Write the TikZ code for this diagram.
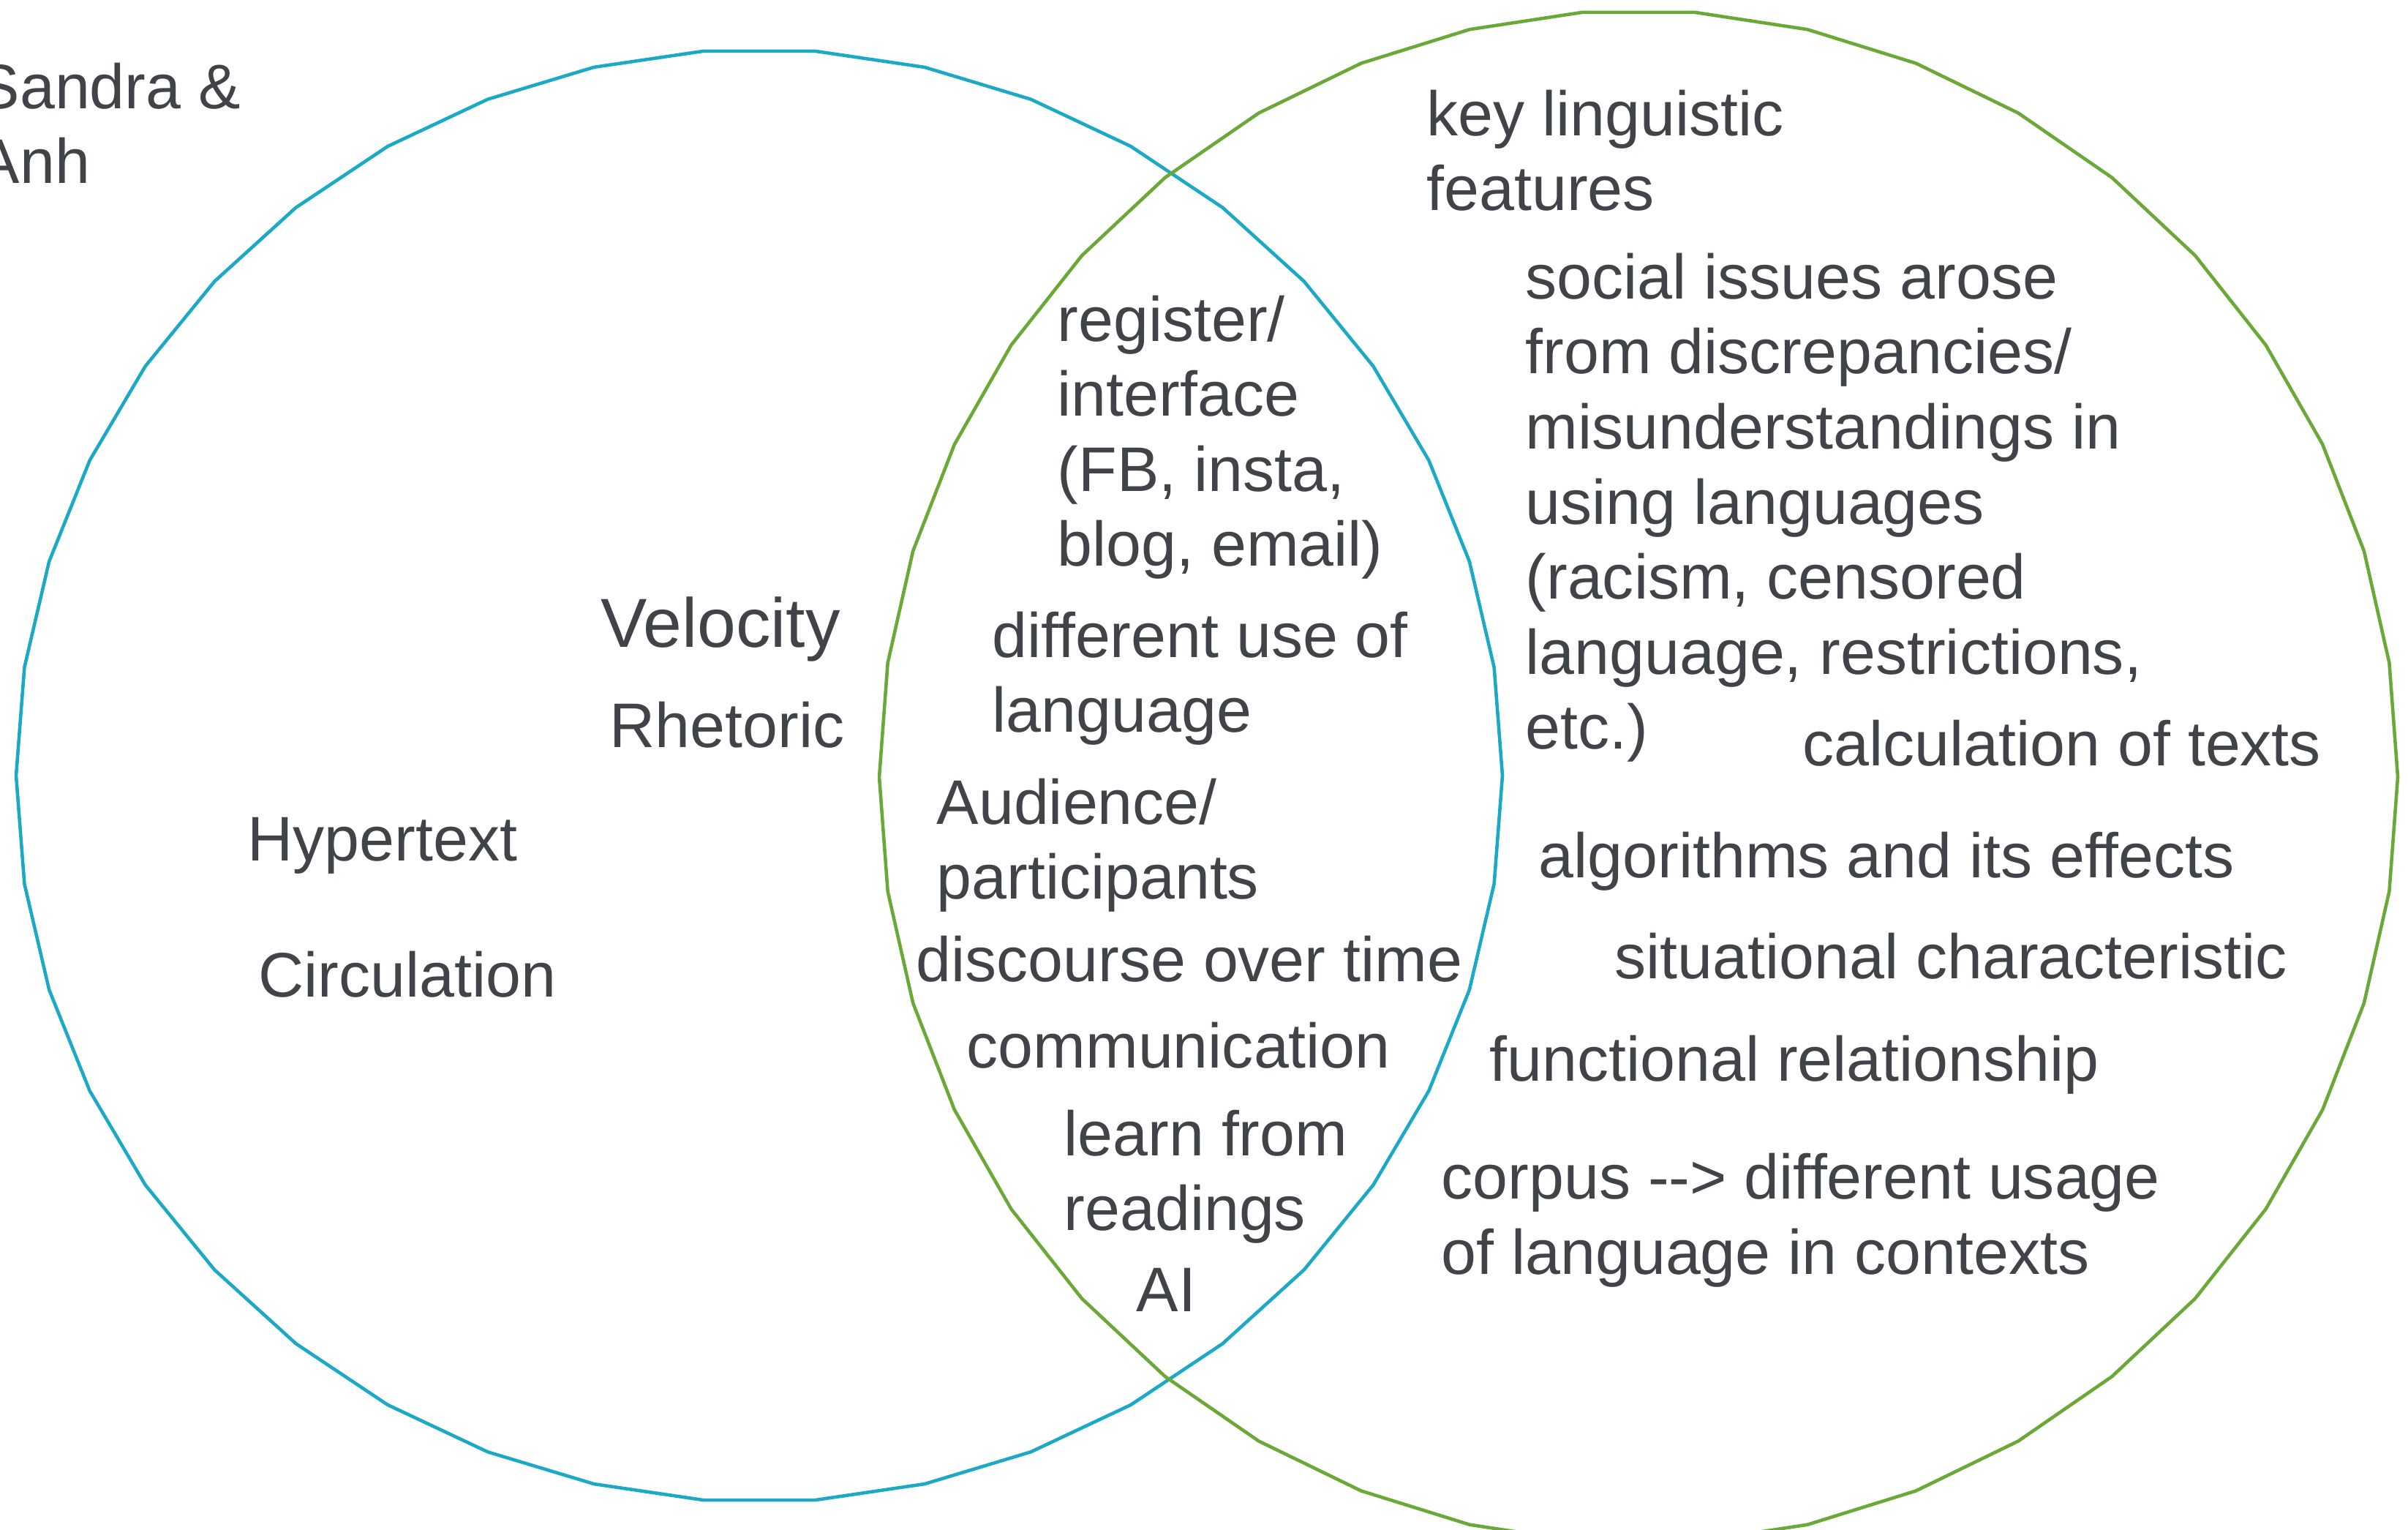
\documentclass[tikz,border=0pt]{standalone}
\usepackage{fontspec}
\setmainfont{Liberation Sans}
\definecolor{vennblue}{RGB}{27,169,198}
\definecolor{venngreen}{RGB}{106,168,56}
\definecolor{inkgray}{RGB}{64,67,71}

\begin{document}
\begin{tikzpicture}[
  lbl/.style={inkgray, anchor=base west, inner sep=0pt, align=left,
              font=\fontsize{24.5}{29.2}\selectfont},
  ring/.style={line width=1.3pt, line join=round}
]
  \useasboundingbox (0,0) rectangle (32.92,20.90);
  \clip (0,0) rectangle (32.92,20.90);

  % the two sets (42-gons, as in the slide)
  \draw[ring, vennblue]  plot[domain=0:360, samples=43] ({10.38+10.16*cos(\x)},{10.30+9.93*sin(\x)}) -- cycle;
  \draw[ring, venngreen] plot[domain=0:360, samples=43] ({22.40+10.38*cos(\x)},{10.28+10.48*sin(\x)}) -- cycle;

  % multi-line labels sit on the baseline of their last line
  \node[lbl] (sandra) at (-0.31,18.39) {Sandra \&\\Anh};

  % left set
  \node[lbl, font=\fontsize{27}{32}\selectfont] (velocity) at (8.21,12.05) {Velocity};
  \node[lbl] (rhetoric)    at (8.33,10.68) {Rhetoric};
  \node[lbl] (hypertext)   at (3.38,9.13)  {Hypertext};
  \node[lbl] (circulation) at (3.53,7.27)  {Circulation};

  % overlap
  \node[lbl] (register)  at (14.45,13.16) {register/\\interface\\(FB, insta,\\blog, email)};
  \node[lbl] (diffuse)   at (13.56,10.89) {different use of\\language};
  \node[lbl] (audience)  at (12.80,8.61)  {Audience/\\participants};
  \node[lbl] (discourse) at (12.52,7.48)  {discourse over time};
  \node[lbl] (commun)    at (13.21,6.30)  {communication};
  \node[lbl] (learn)     at (14.54,4.08)  {learn from\\readings};
  \node[lbl] (ai)        at (15.53,2.97)  {AI};

  % right set
  \node[lbl] (keyfeat) at (19.50,18.02) {key linguistic\\features};
  \node[lbl] (social)  at (20.85,10.66) {social issues arose\\from discrepancies/\\misunderstandings in\\using languages\\(racism, censored\\language, restrictions,\\etc.)};
  \node[lbl] (calc)        at (24.64,10.43) {calculation of texts};
  \node[lbl] (algo)        at (21.03,8.90)  {algorithms and its effects};
  \node[lbl] (situational) at (22.07,7.52)  {situational characteristic};
  \node[lbl] (functional)  at (20.36,6.12)  {functional relationship};
  \node[lbl] (corpus)      at (19.70,3.49)  {corpus -{}-{}> different usage\\of language in contexts};
\end{tikzpicture}
\end{document}
